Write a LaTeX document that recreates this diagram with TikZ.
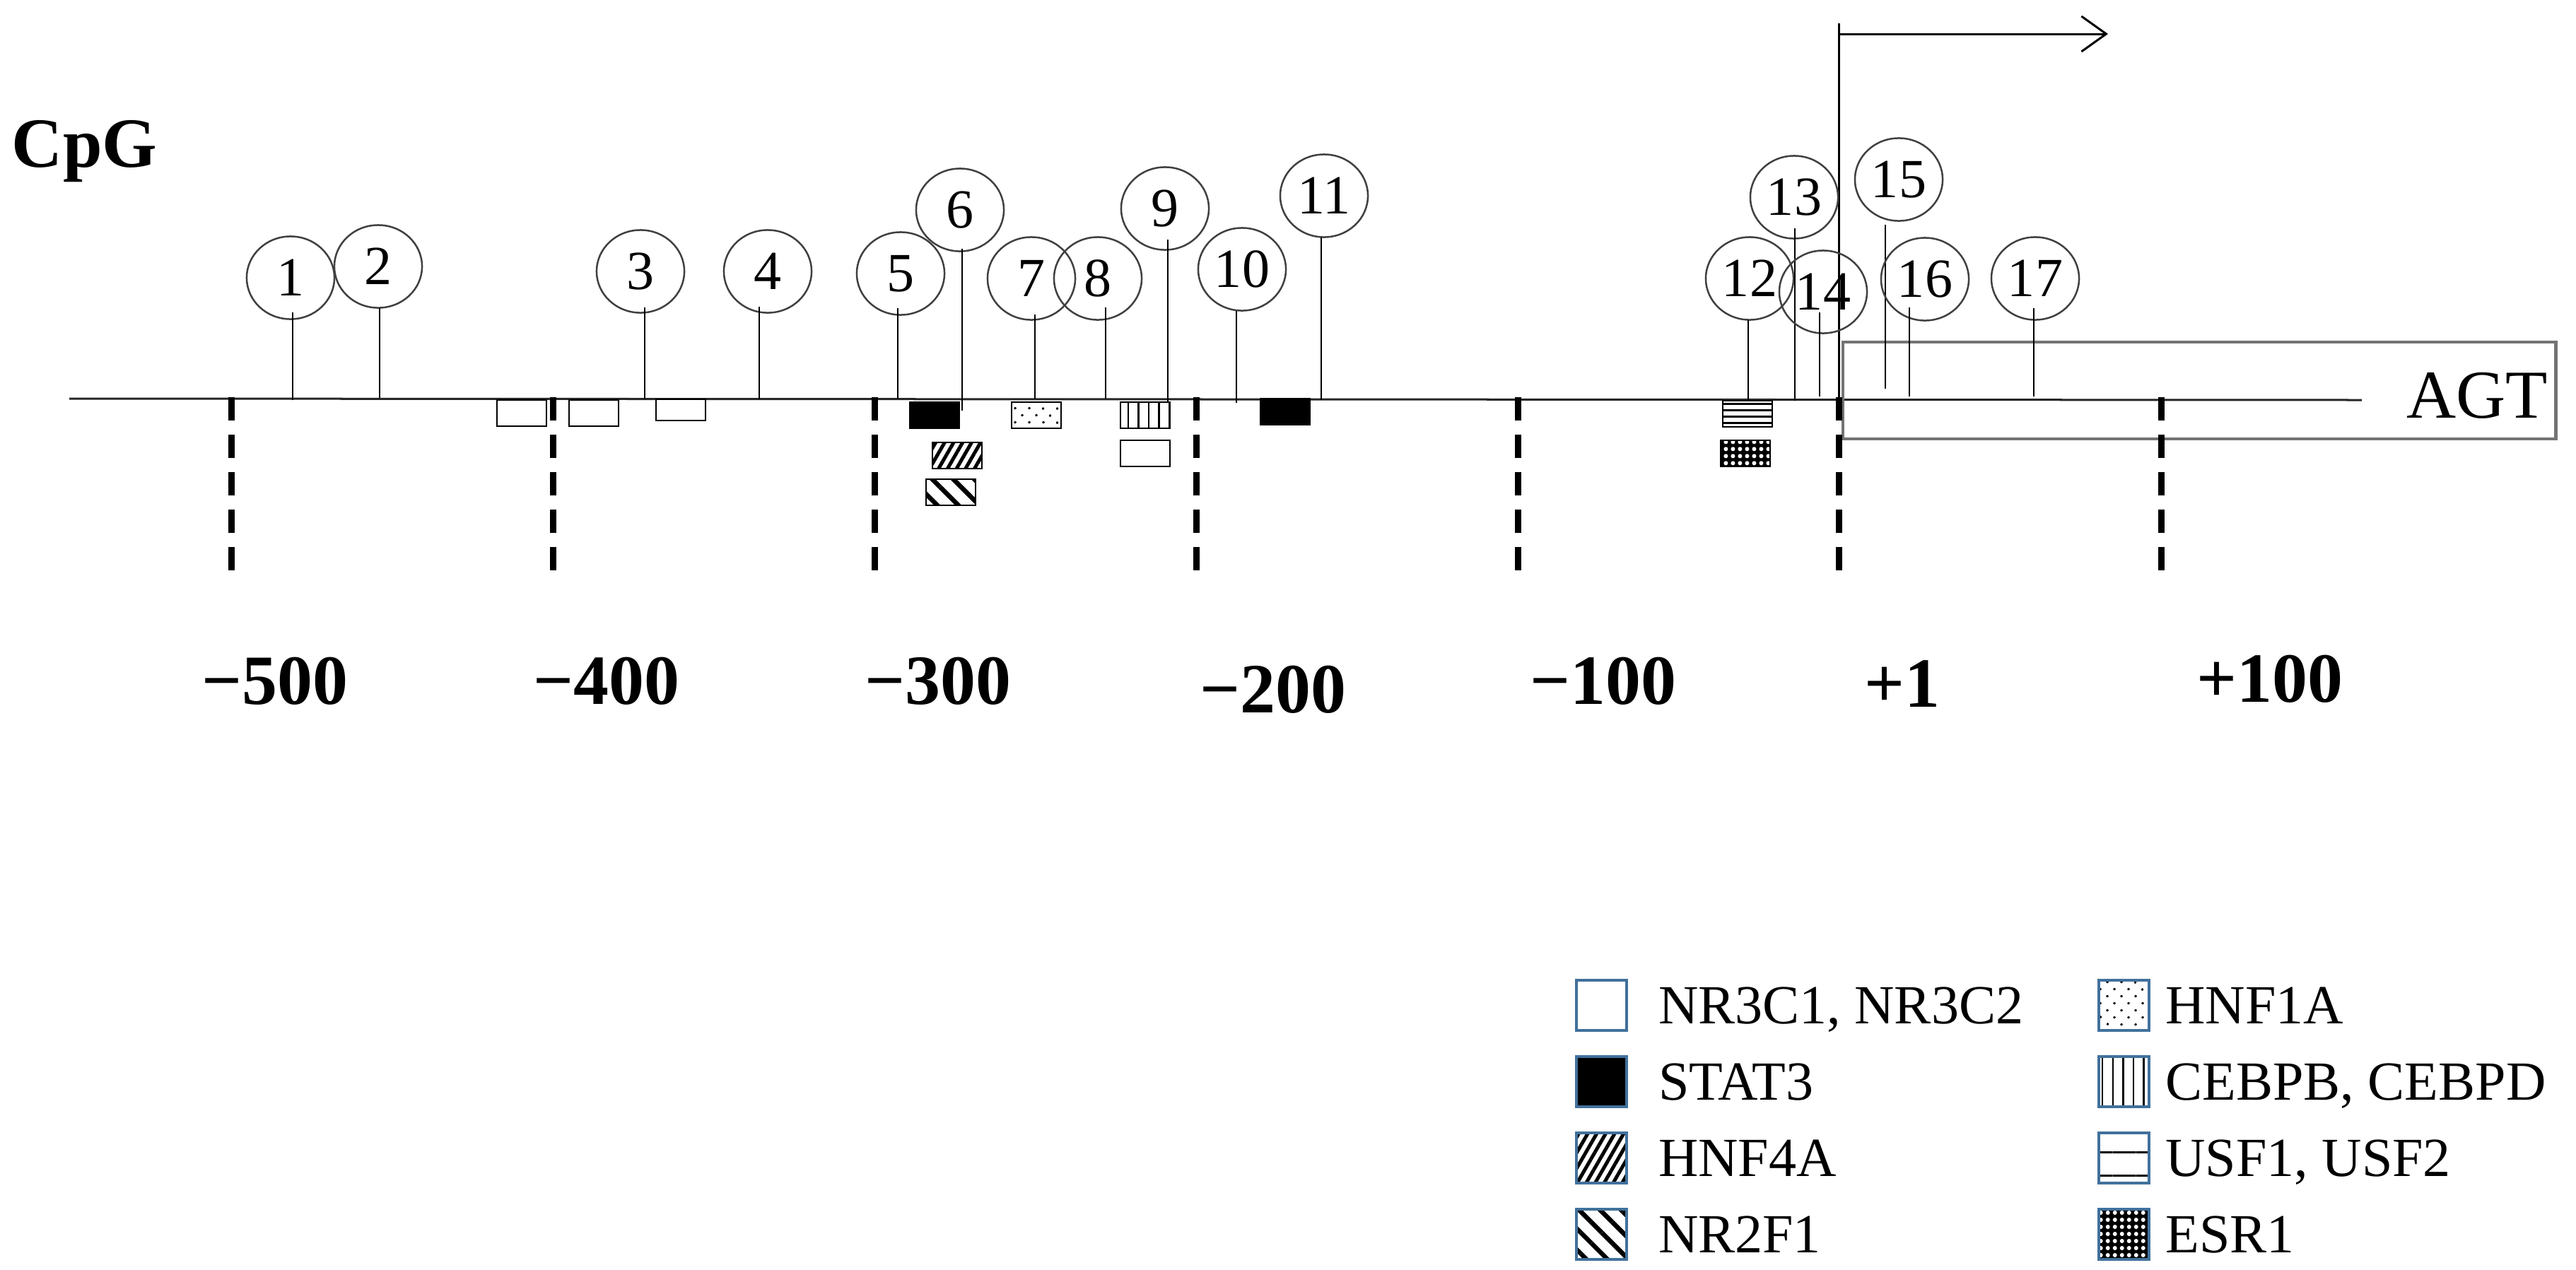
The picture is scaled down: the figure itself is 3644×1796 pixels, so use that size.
\documentclass[tikz,border=0pt]{standalone}
\usepackage{fontspec}
\setmainfont{Liberation Serif}
\usepackage{tikz}
\usetikzlibrary{calc,positioning,matrix,shapes.geometric,patterns.meta,arrows.meta}
\definecolor{legendblue}{HTML}{41719C}
\newlength\tfBoxWidth
\setlength\tfBoxWidth{0.7cm}
\newlength\tfBoxHeight
\setlength\tfBoxHeight{0.37cm}
\newlength\legendBoxSize
\setlength\legendBoxSize{0.71cm}
\tikzset{
  cpgCircle/.style={%
    draw=black!75,
    line width=0.25mm,
    ellipse,
    minimum width=1.24cm,
    minimum height=1.17cm,
    font=\fontsize{22.2}{22.2}\selectfont},
  cpgStem/.style={%
    draw=black,
    line width=0.28mm},
  tickLine/.style={%
    line width=0.9mm,
    dash pattern=on 3.3mm off 2mm},
  tickLabel/.style={%
    font=\fontsize{28.4}{28.4}\selectfont\bfseries},
  tfBox/.style={%
    draw,
    rectangle,
    line width=0.25mm,
    minimum width=\tfBoxWidth,
    minimum height=\tfBoxHeight,
    anchor=north west},
  legendBox/.style={%
    draw=legendblue,
    rectangle,
    line width=0.4mm,
    minimum width=\legendBoxSize,
    minimum height=\legendBoxSize},
  legendText/.style={%
    font=\fontsize{22.2}{22.2}\selectfont},
  nrFill/.style={fill=white},
  statFill/.style={fill=black},
  hnfFourFill/.style={pattern={Lines[angle=60,distance=1.1mm,line width=0.5mm]}},
  nrTwoFill/.style={pattern={Lines[angle=-45,distance=2.1mm,line width=0.65mm]}},
  hnfOneFill/.style={pattern={Dots[angle=45,distance=1.4mm,radius=0.17mm]}},
  cebpFill/.style={pattern={Lines[angle=90,distance=1.45mm,line width=0.25mm]}},
  usfFill/.style={pattern={Lines[angle=0,distance=#1,line width=0.3mm]}},
  usfFill/.default=0.9mm,
  esrFill/.style={preaction={fill=black},pattern={Dots[distance=1mm,radius=0.3mm]},pattern color=white},
  }
\begin{document}
\begin{tikzpicture}[x=0.01cm,y=-0.01cm,every node/.style={text depth=0pt,inner sep=0pt,outer sep=0pt}]
  \useasboundingbox (0,0) rectangle (3644,1796);
  \node[tickLabel,anchor=west] (cpgTitle) at (17,203) {CpG};
  % promoter line, gene box
  \draw[line width=0.3mm,black!85] (98,564) -- (3341,566);
  \node[draw=black!55,line width=0.45mm,rectangle,minimum width=10.08cm,minimum height=1.37cm,anchor=north west] (agtBox) at (2607,484) {};
  \node[font=\fontsize{27.6}{27.6}\selectfont] (agtText) at (3504,559) {AGT};
  % transcription start
  \coordinate (tssTop) at (2601,33);
  \coordinate (tssFoot) at (2601,564);
  \coordinate (tssTip) at (2982,48);
  \draw[line width=0.3mm] (tssTop) -- (tssFoot);
  \draw[line width=0.3mm,-{Straight Barb[length=3.5mm,width=5mm]}] (tssTop |- tssTip) -- (tssTip);
  % scale
  \foreach \x in {327,782,1237,1692,2147,2601,3057}
    \draw[tickLine] (\x,562) -- ++(0,248);
  \foreach \x/\y/\txt [count=\i] in {389/963/−500,858/963/−400,1327/963/−300,1801/975/−200,2268/963/−100,2691/968/+1,3211/960/+100}
    \node[tickLabel] (pos\i) at (\x,\y) {\txt};
  % CpG sites
  \foreach \i/\cx/\cy/\sx/\sy/\dip in {1/411/393/414/566/10,2/535/377/537/563/0,3/906/384/912/565/8,4/1086/384/1074/565/9,
      5/1274/387/1270/564/10,6/1358/297/1361/581/4,7/1459/394/1464/564/8,8/1553/394/1564/564/18,9/1648/295/1652/569/15,
      10/1757/381/1749/570/0,11/1873/277/1869/566/0,12/2475/394/2473/567/0,13/2538/279/2539/567/15,14/2579/413/2574/561/30,
      15/2686/254/2667/550/-5,16/2723/395/2701/561/19,17/2879/394/2877/561/17}{
    \node[cpgCircle] (c\i) at (\cx,\cy) {\i};
    \coordinate (s\i) at (\sx,\sy);
    \draw[cpgStem] (s\i) -- ($(s\i |- c\i.south)+(0,-\dip)$);
  }
  % binding sites
  \node[tfBox,nrFill] (nr1) at (703,566) {};
  \node[tfBox,nrFill] (nr2) at (805,566) {};
  \node[tfBox,nrFill,minimum height=0.3cm] (nr3) at (928,565) {};
  \node[tfBox,statFill] (stat1) at (1287,569) {};
  \node[tfBox,hnfFourFill] (hnfFour) at (1319,626) {};
  \node[tfBox,nrTwoFill] (nrTwo) at (1310,678) {};
  \node[tfBox,hnfOneFill] (hnfOne) at (1431,569) {};
  \node[tfBox,cebpFill] (cebp) at (1585,569) {};
  \node[tfBox,nrFill] (nr4) at (1585,623) {};
  \node[tfBox,statFill] (stat2) at (1783,564) {};
  \node[tfBox,usfFill] (usf) at (2437,567) {};
  \node[tfBox,esrFill] (esr) at (2434,623) {};
  % legend
  \matrix [
    column 1/.style={anchor=center},
    column 2/.style={anchor=west,legendText},
    column 3/.style={anchor=center},
    column 4/.style={anchor=west,legendText},
    row sep=0.33cm,
    anchor=north west,
    ] (legend) at (2228,1385) {
    \node[legendBox,nrFill] (legNr) {}; &[0.43cm] \node{NR3C1, NR3C2}; &[1.05cm] \node[legendBox,hnfOneFill] (legHnfOne) {}; &[0.21cm] \node{HNF1A}; \\
    \node[legendBox,statFill] (legStat) {}; & \node{STAT3}; & \node[legendBox,cebpFill] (legCebp) {}; & \node{CEBPB, CEBPD}; \\
    \node[legendBox,hnfFourFill] (legHnfFour) {}; & \node{HNF4A}; & \node[legendBox,usfFill=3.3mm] (legUsf) {}; & \node{USF1, USF2}; \\
    \node[legendBox,nrTwoFill] (legNrTwo) {}; & \node{NR2F1}; & \node[legendBox,esrFill] (legEsr) {}; & \node{ESR1}; \\
  };
\end{tikzpicture}
\end{document}
